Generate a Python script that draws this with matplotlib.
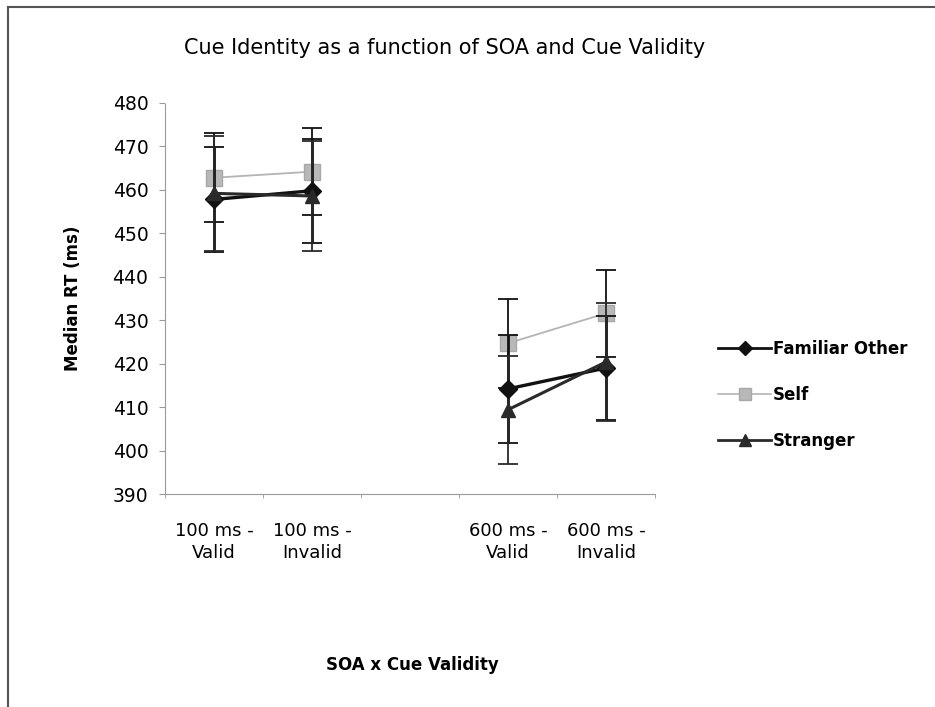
import matplotlib.pyplot as plt
from matplotlib.lines import Line2D
import numpy as np

plt.rcParams['font.family'] = ['DejaVu Sans']

categories = ['100 ms -\nValid', '100 ms -\nInvalid', '', '600 ms -\nValid', '600 ms -\nInvalid']

# middle category is an empty spacer slot in the original chart
familiar = [457.8, 459.8, np.nan, 414.2, 419.0]
familiar_err = [12.0, 12.0, np.nan, 12.5, 12.0]
self_rt = [462.8, 464.2, np.nan, 424.7, 431.6]
self_err = [10.3, 10.0, np.nan, 10.2, 10.0]
stranger = [459.2, 458.6, np.nan, 409.4, 420.4]
stranger_err = [13.3, 12.7, np.nan, 12.4, 13.5]

x = np.arange(len(categories))

fig = plt.figure(figsize=(9.35, 7.07), dpi=100)
ax = fig.add_axes([165 / 935, 1 - 494 / 707, 490 / 935, 391 / 707])

# Self first so the dark series sit on top
ax.errorbar(x, self_rt, yerr=self_err, color='#b4b4b4', ecolor='#111111',
            elinewidth=1.3, capsize=7, capthick=1.3, lw=1.3, marker='s', ms=11,
            mfc='#b8b8b8', mec='#a8a8a8', zorder=3)
ax.errorbar(x, familiar, yerr=familiar_err, color='#111111', ecolor='#111111',
            elinewidth=2.0, capsize=7, capthick=1.3, lw=2.4, marker='D', ms=9,
            zorder=4)
ax.errorbar(x, stranger, yerr=stranger_err, color='#2a2a2a', ecolor='#2a2a2a',
            elinewidth=1.3, capsize=7, capthick=1.3, lw=2.2, marker='^', ms=10,
            zorder=4)

ax.set_xlim(-0.5, 4.5)
ax.set_ylim(390, 480)
ax.set_yticks(np.arange(390, 481, 10))
ax.set_xticks(x)
ax.set_xticklabels(categories, fontsize=13, linespacing=1.3)
ax.tick_params(axis='x', length=0, pad=20)
ax.set_xticks(np.arange(-0.5, 5, 1), minor=True)
ax.tick_params(axis='x', which='minor', length=3, color='#999999', direction='out')
ax.tick_params(axis='y', labelsize=13.5, length=4, color='#999999', pad=8)

for side in ['top', 'right']:
    ax.spines[side].set_visible(False)
for side in ['left', 'bottom']:
    ax.spines[side].set_color('#999999')
    ax.spines[side].set_linestyle((0, (1, 1)))
    ax.spines[side].set_linewidth(0.8)

ax.set_ylabel('Median RT (ms)', fontsize=12, fontweight='bold', labelpad=22)
fig.text(412 / 935, 1 - 665 / 707, 'SOA x Cue Validity', fontsize=12,
         fontweight='bold', ha='center', va='center')
fig.text(445 / 935, 1 - 48 / 707, 'Cue Identity as a function of SOA and Cue Validity',
         fontsize=15, ha='center', va='center')

handles = [
    Line2D([], [], color='#111111', lw=2.0, marker='D', ms=7),
    Line2D([], [], color='#b4b4b4', lw=1.2, marker='s', ms=9, mfc='#b8b8b8', mec='#a8a8a8'),
    Line2D([], [], color='#2a2a2a', lw=2.0, marker='^', ms=8),
]
fig.legend(handles, ['Familiar Other', 'Self', 'Stranger'], loc='center left',
           bbox_to_anchor=(703 / 935, 1 - 395 / 707), frameon=False,
           handlelength=3.2, handletextpad=0.1, labelspacing=1.7,
           prop={'weight': 'bold', 'size': 12})

# outer chart frame (top and left edges visible)
fig.add_artist(Line2D([8 / 935, 8 / 935], [0, 1 - 7 / 707], transform=fig.transFigure,
                      color='#555555', lw=1.5))
fig.add_artist(Line2D([8 / 935, 1], [1 - 7 / 707, 1 - 7 / 707], transform=fig.transFigure,
                      color='#555555', lw=1.5))

fig.savefig('out.png', dpi=100)
